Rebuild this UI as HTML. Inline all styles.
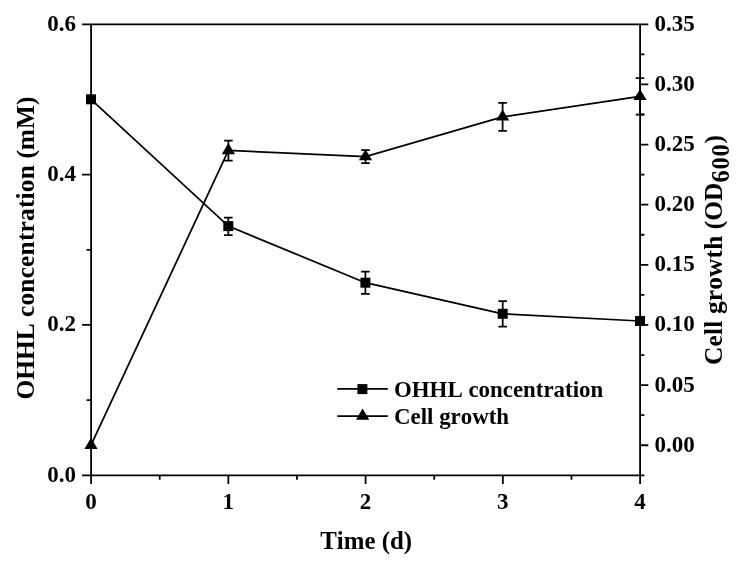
<!DOCTYPE html>
<html><head><meta charset="utf-8"><title>Chart</title>
<style>html,body{margin:0;padding:0;background:#fff;width:740px;height:564px;overflow:hidden;font-family:"Liberation Serif",serif}</style></head>
<body>
<svg width="740" height="564" viewBox="0 0 740 564" style="position:absolute;left:0;top:0;will-change:transform">
<g stroke="#000" stroke-width="1.8" fill="none" stroke-linecap="butt">
<path d="M82.1,24.3H648.3000000000001M82.1,475.3H644.4M91.1,23.400000000000002V484.1M640.1,23.400000000000002V484.1"/>
<path d="M86.6,400.13H91.1M82.1,324.97H91.1M86.6,249.80H91.1M82.1,174.63H91.1M86.6,99.47H91.1M640.1,445.23H648.3000000000001M640.1,415.17H644.4M640.1,385.10H648.3000000000001M640.1,355.03H644.4M640.1,324.97H648.3000000000001M640.1,294.90H644.4M640.1,264.83H648.3000000000001M640.1,234.77H644.4M640.1,204.70H648.3000000000001M640.1,174.63H644.4M640.1,144.57H648.3000000000001M640.1,114.50H644.4M640.1,84.43H648.3000000000001M640.1,54.37H644.4M159.72,475.3V479.7M228.35,475.3V484.1M296.98,475.3V479.7M365.60,475.3V484.1M434.23,475.3V479.7M502.85,475.3V484.1M571.48,475.3V479.7"/>
</g>
<g stroke="#000" stroke-width="1.75" fill="none">
<polyline points="91.0,99.3 228.3,226.1 365.4,282.7 502.7,313.8 640.0,321.0"/>
<polyline points="91.0,445.2 228.4,150.5 365.5,156.6 502.6,116.9 640.0,96.4"/>
<path d="M228.3,217.5V235.0M224.0,217.5h8.6M224.0,235.0h8.6M365.4,271.5V293.9M361.09999999999997,271.5h8.6M361.09999999999997,293.9h8.6M502.7,301.1V326.5M498.4,301.1h8.6M498.4,326.5h8.6M228.4,140.5V160.5M224.1,140.5h8.6M224.1,160.5h8.6M365.5,150.1V163.05M361.2,150.1h8.6M361.2,163.05h8.6M502.6,102.8V130.9M498.3,102.8h8.6M498.3,130.9h8.6M640.0,78.2V114.6M635.7,78.2h8.6M635.7,114.6h8.6" stroke-width="1.75"/>
<path d="M337.3,388.9H387.8M337.3,416H387.8"/>
</g>
<g fill="#000">
<rect x="86.00" y="94.30" width="10" height="10"/>
<rect x="223.30" y="221.10" width="10" height="10"/>
<rect x="360.40" y="277.70" width="10" height="10"/>
<rect x="497.70" y="308.80" width="10" height="10"/>
<rect x="635.00" y="316.00" width="10" height="10"/>
<rect x="357.40" y="384.10" width="10" height="10"/>
<path d="M84.40,448.90h13.2L91.00,437.80z"/>
<path d="M221.80,154.20h13.2L228.40,143.10z"/>
<path d="M358.90,160.30h13.2L365.50,149.20z"/>
<path d="M496.00,120.60h13.2L502.60,109.50z"/>
<path d="M633.40,100.10h13.2L640.00,89.00z"/>
<path d="M356.00,419.70h13.2L362.60,408.60z"/>
</g>
<g font-family="'Liberation Serif', serif" font-weight="bold" fill="#000" style="font-kerning:none">
<g font-size="23px">
<text x="76" y="481.70" text-anchor="end">0.0</text>
<text x="76" y="331.37" text-anchor="end">0.2</text>
<text x="76" y="181.03" text-anchor="end">0.4</text>
<text x="76" y="30.70" text-anchor="end">0.6</text>
<text x="654.4" y="451.63">0.00</text>
<text x="654.4" y="391.50">0.05</text>
<text x="654.4" y="331.37">0.10</text>
<text x="654.4" y="271.23">0.15</text>
<text x="654.4" y="211.10">0.20</text>
<text x="654.4" y="150.97">0.25</text>
<text x="654.4" y="90.83">0.30</text>
<text x="654.4" y="30.70">0.35</text>
<text x="91.10" y="508.8" text-anchor="middle">0</text>
<text x="228.35" y="508.8" text-anchor="middle">1</text>
<text x="365.60" y="508.8" text-anchor="middle">2</text>
<text x="502.85" y="508.8" text-anchor="middle">3</text>
<text x="640.10" y="508.8" text-anchor="middle">4</text>
</g>
<text x="366.2" y="549.4" font-size="24.85px" text-anchor="middle">Time (d)</text>
<text transform="translate(33.6,399.6) rotate(-90)" font-size="25.4px">OHHL <tspan letter-spacing="0.2">concentration</tspan> (mM)</text>
<text transform="translate(721.6,365) rotate(-90)" font-size="25.4px"><tspan letter-spacing="0.17">Cell growth</tspan> (OD<tspan font-size="24.6px" letter-spacing="0.75" dy="7">600</tspan><tspan dy="-7">)</tspan></text>
<text x="394" y="396.9" font-size="22.9px">OHHL concentration</text>
<text x="394" y="423.7" font-size="22.9px">Cell growth</text>
</g>
</svg>
</body></html>
